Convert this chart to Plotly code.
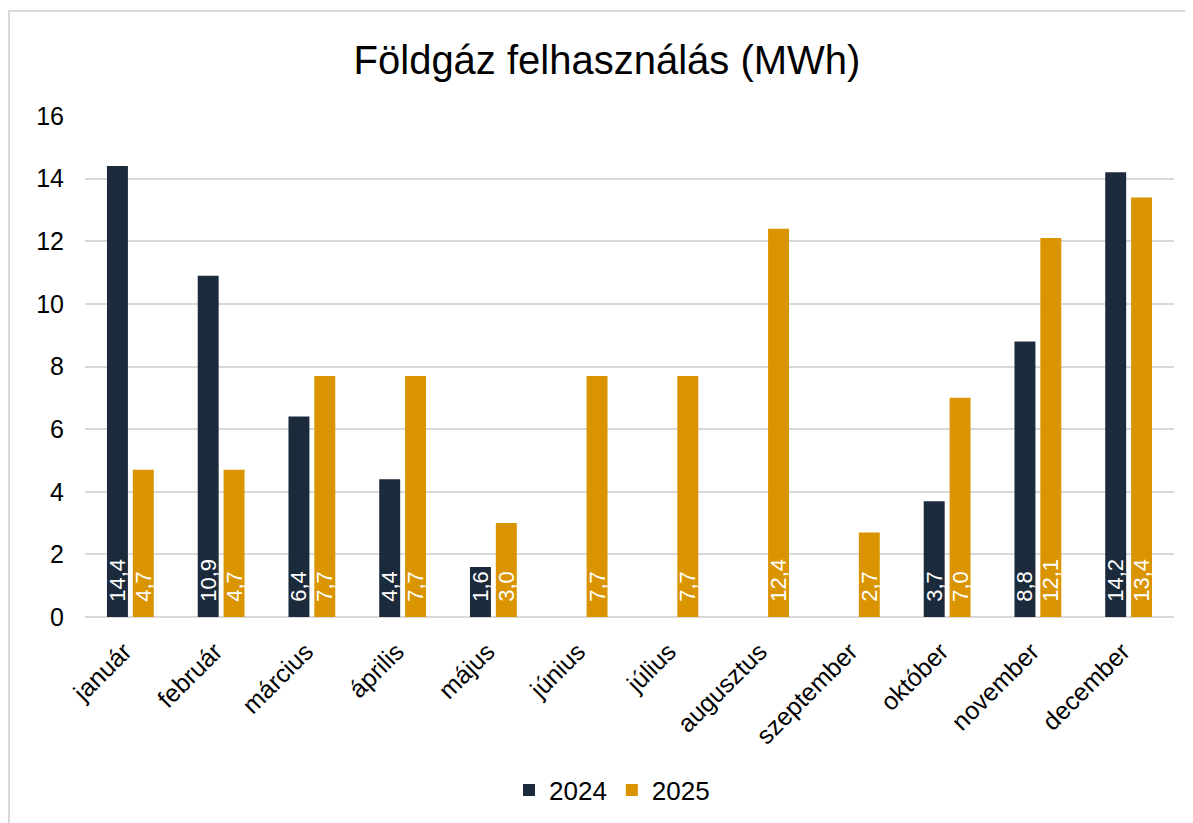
import plotly.graph_objects as go

months = ["január", "február", "március", "április", "május", "június",
          "július", "augusztus", "szeptember", "október", "november", "december"]
v2024 = [14.4, 10.9, 6.4, 4.4, 1.6, None, None, None, None, 3.7, 8.8, 14.2]
v2025 = [4.7, 4.7, 7.7, 7.7, 3.0, 7.7, 7.7, 12.4, 2.7, 7.0, 12.1, 13.4]
y_ticks = [0, 2, 4, 6, 8, 10, 12, 14, 16]

C2024 = "#1c2b3b"
C2025 = "#da9400"

W, H = 1193, 823
OFF = 8  # page body margin
L, R, T, B = 85 - OFF, 19 + OFF, 116 - OFF, 206 + OFF


def lab(vals):
    return ["" if v is None else "\u00a0\u00a0" + f"{v:.1f}".replace(".", ",") for v in vals]


fig = go.Figure()
for name, vals, col in [("2024", v2024, C2024), ("2025", v2025, C2025)]:
    fig.add_trace(go.Bar(
        name=name, x=months, y=vals, marker=dict(color=col, line=dict(width=0)),
        text=lab(vals), textposition="inside", insidetextanchor="start",
        textangle=-90, textfont=dict(color="white", size=22, family="Liberation Sans"),
        cliponaxis=False,
    ))

pw = W - L - R
ph = H - T - B
fig.add_shape(type="rect", xref="paper", yref="paper",
              x0=(9 - OFF - L) / pw, x1=(W + 5 - L) / pw,
              y0=(H - B - (H + 5)) / ph, y1=(H - B - (11 - OFF)) / ph,
              line=dict(color="#d9d9d9", width=2), fillcolor="rgba(0,0,0,0)", layer="below")

fig.update_layout(
    width=W, height=H,
    margin=dict(l=L, r=R, t=T, b=B),
    paper_bgcolor="white", plot_bgcolor="white",
    font=dict(family="Liberation Sans", color="#000000", size=22),
    title=dict(text="Földgáz felhasználás (MWh)", x=(607 - OFF) / W, xanchor="center",
               y=1 - (60 - OFF) / H, yanchor="middle", xref="container", yref="container",
               font=dict(size=40, color="#000000")),
    barmode="group", bargap=0.43, bargroupgap=0.19,
    uniformtext=dict(minsize=22, mode="show"),
    showlegend=True,
    legend=dict(orientation="h", x=(612 - OFF) / W, xref="container", xanchor="center",
                y=1 - (790 - OFF) / H, yref="container", yanchor="middle",
                font=dict(size=26), itemsizing="constant", traceorder="normal"),
)
fig.update_xaxes(tickangle=-45, showline=False, ticks="", showgrid=False,
                 tickfont=dict(size=25), ticklabelstandoff=14, ticklabelshift=-6)
fig.update_yaxes(range=[0, 16], tickvals=y_ticks, showgrid=True, gridcolor="#d9d9d9",
                 gridwidth=1.5, zeroline=True, zerolinecolor="#d9d9d9", zerolinewidth=1.5,
                 showline=False, ticks="", tickfont=dict(size=25), ticklabelstandoff=20)

fig.write_html("out.html")
